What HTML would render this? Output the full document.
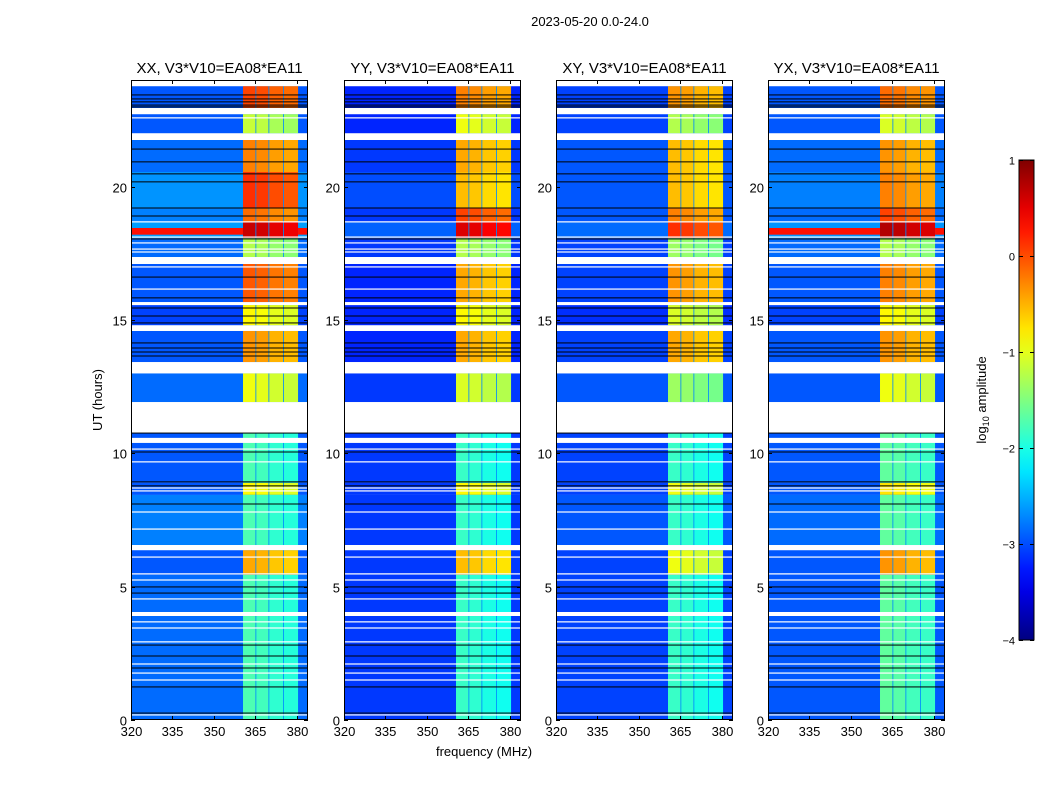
<!DOCTYPE html>
<html><head><meta charset="utf-8"><style>
html,body{margin:0;padding:0;background:#fff;}
svg{display:block;font-family:"Liberation Sans","DejaVu Sans",sans-serif;}
</style></head><body>
<svg id="fig" width="1050" height="800" viewBox="0 0 1050 800" xmlns="http://www.w3.org/2000/svg">
<text x="590" y="26" font-size="13" text-anchor="middle">2023-05-20 0.0-24.0</text>
<text transform="translate(102,400) rotate(-90)" font-size="13" text-anchor="middle">UT (hours)</text>
<text x="484" y="756" font-size="13" text-anchor="middle">frequency (MHz)</text>
<text transform="translate(986,400) rotate(-90)" font-size="13" text-anchor="middle">log<tspan font-size="9" dy="3">10</tspan><tspan dy="-3"> amplitude</tspan></text>
</svg>
<script>
// ---- data ----
const panelTitles = ["XX, V3*V10=EA08*EA11","YY, V3*V10=EA08*EA11","XY, V3*V10=EA08*EA11","YX, V3*V10=EA08*EA11"];
const xTicks = [320,335,350,365,380];
const yTicks = [0,5,10,15,20];
const cbTicks = [1,0,-1,-2,-3,-4];
// time segments [start hour, end hour]
const segStart = [22.95,22.0,20.55,19.2,18.67,18.07,17.36,15.67,14.8,13.42,11.92,8.89,8.44,6.56,5.44,0.0];
const segEnd   = [23.77,22.72,21.75,20.55,19.2,18.67,18.07,17.1,15.56,14.59,13.0,10.76,8.89,8.44,6.37,5.44];
// RFI band log10 amplitude per panel per segment
const bandXX = [0.0,-1.2,-0.3,0.1,-0.2,0.6,-1.3,-0.1,-0.9,-0.4,-1.0,-1.8,-0.9,-1.8,-0.5,-1.8];
const bandYY = [-0.3,-1.0,-0.5,-0.6,0.0,0.5,-1.3,-0.5,-0.9,-0.5,-1.1,-1.9,-0.9,-1.9,-0.6,-1.9];
const bandXY = [-0.4,-1.3,-0.6,-0.6,-0.3,0.1,-1.4,-0.4,-1.1,-0.5,-1.4,-1.9,-1.0,-1.9,-1.0,-1.9];
const bandYX = [-0.2,-1.1,-0.4,-0.3,0.0,0.7,-1.3,-0.3,-0.9,-0.4,-1.0,-1.7,-0.8,-1.7,-0.4,-1.7];
// background log10 amplitude per panel per segment
const bgXX = [-2.95,-2.95,-2.85,-2.65,-2.75,-2.6,-2.85,-2.95,-3.05,-2.95,-2.85,-2.95,-2.95,-2.75,-2.95,-2.85];
const bgYY = [-3.2,-3.2,-3.1,-3.0,-3.1,-2.9,-3.1,-3.2,-3.2,-3.2,-3.1,-3.1,-3.1,-3.1,-3.1,-3.1];
const bgXY = [-3.05,-3.05,-2.95,-2.95,-2.95,-2.85,-3.05,-3.05,-3.15,-3.05,-2.95,-3.05,-3.05,-2.95,-3.05,-3.05];
const bgYX = [-2.95,-2.95,-2.85,-2.75,-2.85,-2.65,-2.85,-2.95,-3.05,-2.95,-2.95,-2.95,-2.95,-2.85,-2.95,-2.95];
// RFI band sub-channels [start MHz, end MHz] and offsets
const subStart = [360.5,365.3,370.0,375.3];
const subEnd   = [365.0,369.7,375.0,380.4];
const subOffset = [0.05,0.0,-0.1,-0.15];
const sepValue = -2.7;
// strong broadband line (XX, YX)
const redLineStart = 18.2, redLineEnd = 18.45;
const redLineVal = [0.3, -2.6, -2.6, 0.3];
// flagged gaps [start,end] hours
const gapStart = [23.77,22.72,21.75,17.1,15.56,14.59,13.0,10.76,10.39,6.37,3.9];
const gapEnd   = [24.0,22.9,22.0,17.36,15.67,14.8,13.42,11.92,10.58,6.56,4.05];
const whiteLines = [22.58,18.68,18.11,17.89,17.66,17.55,16.99,16.16,10.16,9.68,8.70,8.59,7.80,7.16,6.11,5.48,5.25,4.54,3.68,3.45,2.93,2.10,1.76,1.50,0.19];
const blackLines = [23.44,23.29,23.18,23.06,22.99,21.41,20.93,20.48,20.18,19.2,18.9,18.04,16.61,15.83,15.45,15.15,14.89,14.14,13.95,13.8,13.65,10.76,10.05,8.93,8.78,8.1,4.99,4.76,2.81,2.4,1.95,1.24,0.26];

const bands=[bandXX,bandYY,bandXY,bandYX], bgs=[bgXX,bgYY,bgXY,bgYX];
const panelLeft=[131,344,556,768], panelW=177, plotTop=80, plotBottom=720;
const fMin=320, fMax=384, hMin=0, hMax=24;
const NS="http://www.w3.org/2000/svg";
const svg=document.getElementById('fig');
function jet(v){
  let t=(v+4)/5; t=Math.max(0,Math.min(1,t));
  const r=Math.max(0,Math.min(1,Math.min(4*t-1.5,-4*t+4.5)));
  const g=Math.max(0,Math.min(1,Math.min(4*t-0.5,-4*t+3.5)));
  const b=Math.max(0,Math.min(1,Math.min(4*t+0.5,-4*t+2.5)));
  return `rgb(${Math.round(r*255)},${Math.round(g*255)},${Math.round(b*255)})`;
}
function mk(tag,attrs,parent){const e=document.createElementNS(NS,tag);for(const k in attrs)e.setAttribute(k,attrs[k]);(parent||svg).appendChild(e);return e;}
function yS(h){return plotBottom-(h-hMin)/(hMax-hMin)*(plotBottom-plotTop);}

for(let p=0;p<4;p++){
  const L=panelLeft[p];
  const xS=f=>L+(f-fMin)/(fMax-fMin)*panelW;
  const g=mk('g',{});
  
  
  for(let s=0;s<segStart.length;s++){
    const y0=yS(segEnd[s]), y1=yS(segStart[s]);
    const bg=mk('rect',{x:xS(fMin),y:y0,width:xS(fMax)-xS(fMin),height:y1-y0,fill:jet(bgs[p][s])},g);
    
    
    const sep=mk('rect',{x:xS(subStart[0]),y:y0,width:xS(subEnd[3])-xS(subStart[0]),height:y1-y0,fill:jet(sepValue)},g);
    
    
    for(let c=0;c<subStart.length;c++){
      const r=mk('rect',{x:xS(subStart[c]),y:y0,width:xS(subEnd[c])-xS(subStart[c]),height:y1-y0,fill:jet(bands[p][s]+subOffset[c])},g);
      
      
    }
  }
  {
    const y0=yS(redLineEnd), y1=yS(redLineStart);
    if(redLineVal[p]>-1){
      const r=mk('rect',{x:xS(fMin),y:y0,width:xS(subStart[0])-xS(fMin),height:y1-y0,fill:jet(redLineVal[p])},g);
      
      
      const r2=mk('rect',{x:xS(subEnd[3]),y:y0,width:xS(fMax)-xS(subEnd[3]),height:y1-y0,fill:jet(redLineVal[p])},g);
      
      
    }
  }
  for(let i=0;i<gapStart.length;i++){
    const y0=yS(gapEnd[i]), y1=yS(gapStart[i]);
    const r=mk('rect',{x:L,y:y0,width:panelW,height:y1-y0,fill:'#fff'},g);
    
    
  }
  for(const h of whiteLines){
    const r=mk('rect',{x:L,y:yS(h)-0.6,width:panelW,height:1.2,fill:'#fff'},g);
    
    
  }
  for(const h of blackLines){
    const r=mk('rect',{x:L,y:yS(h)-0.5,width:panelW,height:1,fill:'#000'},g);
    
    
  }
  const fr=mk('rect',{x:L+0.5,y:plotTop+0.5,width:panelW-1,height:plotBottom-plotTop-1,fill:'none',stroke:'#000','stroke-width':1},g);
  
  
  const t=mk('text',{x:L+panelW/2,y:73,'font-size':15,'text-anchor':'middle'},g);
  t.textContent=panelTitles[p];
  
  
  for(const f of xTicks){
    const x=Math.round(xS(f))+0.5;
    mk('line',{x1:x,x2:x,y1:plotBottom,y2:plotBottom-4,stroke:'#000'},g);
    mk('line',{x1:x,x2:x,y1:plotTop,y2:plotTop+4,stroke:'#000'},g);
    const tl=mk('text',{x:x,y:plotBottom+16,'font-size':13,'text-anchor':'middle'},g);
    tl.textContent=f;
    
    
  }
  for(const h of yTicks){
    const y=Math.round(yS(h))+0.5;
    mk('line',{x1:L,x2:L+4,y1:y,y2:y,stroke:'#000'},g);
    mk('line',{x1:L+panelW,x2:L+panelW-4,y1:y,y2:y,stroke:'#000'},g);
    const tl=mk('text',{x:L-4,y:y+5,'font-size':13,'text-anchor':'end'},g);
    tl.textContent=h;
    
    
  }
}
{
  const cx=1019,cw=15,cy0=160,cy1=640;
  const g=mk('g',{});
  
  
  const defs=mk('defs',{},g);
  const lg=mk('linearGradient',{id:'jetg',x1:0,y1:1,x2:0,y2:0},defs);
  for(let i=0;i<=20;i++){const v=-4+5*i/20;mk('stop',{offset:i/20,'stop-color':jet(v)},lg);}
  mk('rect',{x:cx,y:cy0,width:cw,height:cy1-cy0,fill:'url(#jetg)',stroke:'#000','stroke-width':1},g);
  const cS=v=>cy1-(v+4)/5*(cy1-cy0);
  for(const v of cbTicks){
    const y=Math.round(cS(v))+0.5;
    mk('line',{x1:cx,x2:cx+4,y1:y,y2:y,stroke:'#000'},g);
    mk('line',{x1:cx+cw,x2:cx+cw-4,y1:y,y2:y,stroke:'#000'},g);
    const tl=mk('text',{x:cx-4,y:y+4,'font-size':11,'text-anchor':'end'},g);
    tl.textContent=v<0?'\u2212'+(-v):String(v);
    
    
  }
}
</script>
</body></html>
